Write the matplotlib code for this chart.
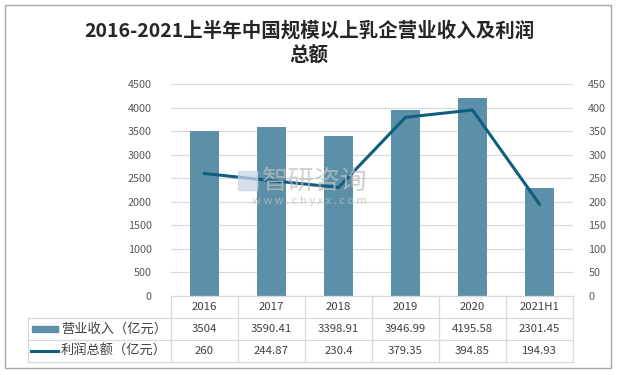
import matplotlib
matplotlib.use("Agg")
from matplotlib import pyplot as plt
from matplotlib.lines import Line2D
from matplotlib.patches import Rectangle
import numpy as np

plt.rcParams['font.family'] = ['Noto Sans CJK SC', 'DejaVu Sans']

years = ["2016", "2017", "2018", "2019", "2020", "2021H1"]
revenue = [3504, 3590.41, 3398.91, 3946.99, 4195.58, 2301.45]
profit = [260, 244.87, 230.4, 379.35, 394.85, 194.93]
revenue_txt = ["3504", "3590.41", "3398.91", "3946.99", "4195.58", "2301.45"]
profit_txt = ["260", "244.87", "230.4", "379.35", "394.85", "194.93"]
series_names = ["营业收入（亿元）", "利润总额（亿元）"]
title = "2016-2021上半年中国规模以上乳企营业收入及利润\n总额"

W, H = 618, 375
bar_color = "#5B90A8"
line_color = "#0F5E80"
grid_color = "#D9D9D9"
txt_color = "#595959"

fig = plt.figure(figsize=(W / 100, H / 100), dpi=100)

def px(x, y):
    # pixel coords (top-left origin) -> figure fraction
    return x / W, 1 - y / H

def hline(x0, x1, y, **kw):
    a, b = px(x0, y)
    c, _ = px(x1, y)
    fig.add_artist(Line2D([a, c], [b, b], transform=fig.transFigure, **kw))

def vline(x, y0, y1, **kw):
    a, b = px(x, y0)
    _, d = px(x, y1)
    fig.add_artist(Line2D([a, a], [b, d], transform=fig.transFigure, **kw))

# outer frame
fig.add_artist(Rectangle(px(5, 368), 606 / W, 363 / H, transform=fig.transFigure,
                         fill=False, edgecolor="#A6A6A6", linewidth=1))

left, right, top, bottom = 171, 573, 84, 296
ax = fig.add_axes([left / W, 1 - bottom / H, (right - left) / W, (bottom - top) / H])
ax2 = ax.twinx()

x = np.arange(len(years))
ax.bar(x, revenue, width=0.42, color=bar_color, zorder=2)
ax.set_xlim(-0.5, len(years) - 0.5)
ax.set_ylim(0, 4500)
ax.set_yticks(np.arange(0, 4501, 500))
ax.grid(axis="y", color=grid_color, linewidth=0.8, zorder=0)
ax.set_axisbelow(True)
ax.set_xticks([])

ax2.plot(x, profit, color=line_color, linewidth=2.2, zorder=3)
ax2.set_ylim(0, 450)
ax2.set_yticks(np.arange(0, 451, 50))

for a in (ax, ax2):
    for s in a.spines.values():
        s.set_visible(False)
    a.tick_params(length=0, labelsize=7.8, labelcolor=txt_color)
ax.tick_params(axis="y", pad=14)
ax2.tick_params(axis="y", pad=11)

# table
col_w = (right - left) / len(years)
rows = [296, 318, 340, 362]
tl = 28
gkw = dict(color=grid_color, linewidth=0.9)
hline(left, right, rows[0], **gkw)
for r in rows[1:]:
    hline(tl, right, r, **gkw)
vline(tl, rows[1], rows[3], **gkw)
for i in range(len(years) + 1):
    vline(left + i * col_w, rows[0], rows[3], **gkw)

for i in range(len(years)):
    cx = left + (i + 0.5) * col_w
    for j, vals in enumerate([years, revenue_txt, profit_txt]):
        cy = (rows[j] + rows[j + 1]) / 2
        fig.text(*px(cx, cy), vals[i], ha="center", va="center",
                 fontsize=8.2, color="#404040")

# legend keys in the table
cy1 = (rows[1] + rows[2]) / 2
fig.add_artist(Rectangle(px(32, cy1 + 3), 26 / W, 6 / H, transform=fig.transFigure,
                         color=bar_color))
fig.text(*px(61, cy1), series_names[0], ha="left", va="center", fontsize=9.5, color="#404040")
cy2 = (rows[2] + rows[3]) / 2
a0, b0 = px(31, cy2)
a1, _ = px(58, cy2)
fig.add_artist(Line2D([a0, a1], [b0, b0], transform=fig.transFigure,
                      color=line_color, linewidth=2.2))
fig.text(*px(61, cy2), series_names[1], ha="left", va="center", fontsize=9.5, color="#404040")

# title
fig.text(*px(309, 43), title, ha="center", va="center", fontsize=14,
         fontweight="bold", color="#262626", linespacing=1.3)

# watermark
fig.add_artist(Rectangle(px(238, 190), 19 / W, 19 / H, transform=fig.transFigure,
                         color="#C9D6E6", alpha=0.75, zorder=5))
fig.text(*px(262, 181), "智研咨询", ha="left", va="center", fontsize=19,
         color="#BFBFBF", alpha=0.75, zorder=5)
fig.text(*px(309, 201), "w w w . c h y x x . c o m", ha="center", va="center",
         fontsize=8, color="#BFBFBF", alpha=0.75, zorder=5)

fig.savefig("out.png", dpi=100)
